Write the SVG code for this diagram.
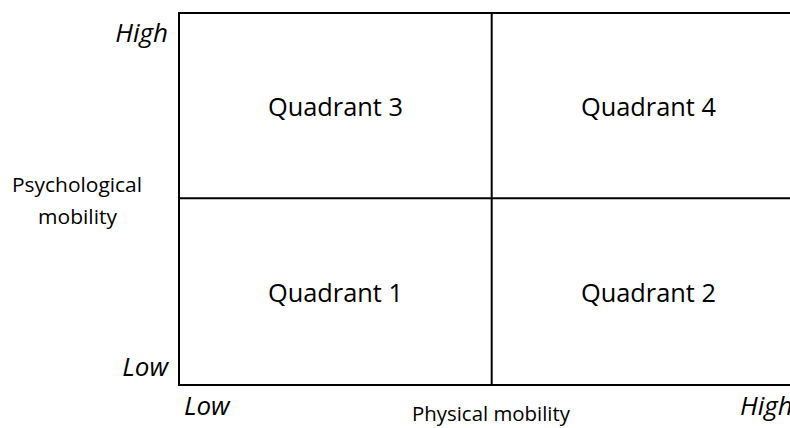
<svg xmlns="http://www.w3.org/2000/svg" width="790" height="428" viewBox="0 0 790 428">
<style>
.q{font-family:"Open Sans","Noto Sans","Liberation Sans",sans-serif;font-size:25px;fill:#000;text-anchor:middle}
.ax{font-family:"Open Sans","Noto Sans","Liberation Sans",sans-serif;font-size:26px;font-style:italic;fill:#000}
.lb{font-family:"Open Sans","Noto Sans","Liberation Sans",sans-serif;font-size:20px;fill:#000;text-anchor:middle}
.ln{stroke:#000;stroke-width:2;fill:none}
</style>
<rect width="790" height="428" fill="#fff"/>
<g id="grid">
<rect class="ln" x="179" y="13" width="630" height="372"/>
<line class="ln" x1="491.7" y1="13" x2="491.7" y2="385"/>
<line class="ln" x1="179" y1="198.3" x2="809" y2="198.3" stroke-width="1.8"/>
</g>
<g id="q3"><text class="q" x="335.5" y="116" textLength="135" lengthAdjust="spacingAndGlyphs">Quadrant 3</text></g>
<g id="q4"><text class="q" x="648.5" y="116" textLength="135" lengthAdjust="spacingAndGlyphs">Quadrant 4</text></g>
<g id="q1"><text class="q" x="335.5" y="302" textLength="135" lengthAdjust="spacingAndGlyphs">Quadrant 1</text></g>
<g id="q2"><text class="q" x="648.5" y="302" textLength="135" lengthAdjust="spacingAndGlyphs">Quadrant 2</text></g>
<g id="yaxis">
<text class="ax" x="168" y="42" text-anchor="end">High</text>
<text class="ax" x="168" y="376" text-anchor="end">Low</text>
<text class="lb" x="77" y="192" textLength="130" lengthAdjust="spacingAndGlyphs">Psychological</text>
<text class="lb" x="77.5" y="224" textLength="79" lengthAdjust="spacingAndGlyphs">mobility</text>
</g>
<g id="xaxis">
<text class="ax" x="184" y="415">Low</text>
<text class="ax" x="740" y="415">High</text>
<text class="lb" x="491" y="421" font-size="19" textLength="158" lengthAdjust="spacingAndGlyphs">Physical mobility</text>
</g>
</svg>
